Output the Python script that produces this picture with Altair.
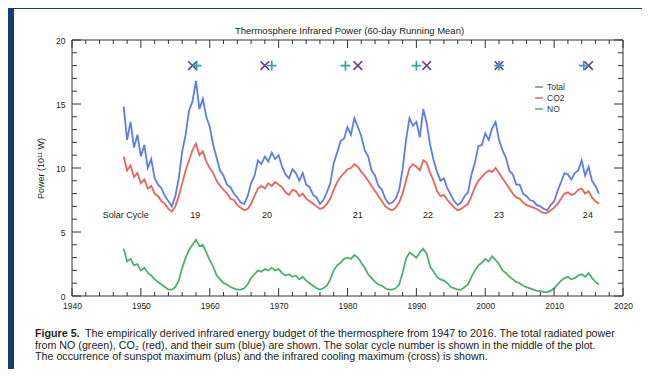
import altair as alt
import pandas as pd

# ---------------- data ----------------
START_YEAR = 1947.5
STEP = 0.5  # years between samples

# Total infrared power (10^11 W): 1947.5, then two values per year 1948..2016
total = [14.8,
         12.2, 13.6, 11.6, 12.6, 10.9, 11.8, 10.0, 10.7, 9.2, 8.7,      # 1948-1952
         8.4, 7.8, 7.4, 7.0, 7.8, 9.2, 11.3, 12.6, 14.5, 15.2,          # 1953-1957
         16.8, 14.6, 15.4, 14.0, 13.2, 11.8, 10.8, 9.8, 9.4, 8.7,       # 1958-1962
         8.5, 8.0, 7.7, 7.3, 7.2, 7.8, 8.8, 9.4, 10.6, 10.3,            # 1963-1967
         10.9, 10.5, 11.2, 10.7, 11.0, 10.1, 9.5, 9.2, 9.9, 9.6,        # 1968-1972
         9.0, 9.6, 8.7, 8.5, 7.9, 7.7, 7.2, 7.5, 8.1, 8.8,              # 1973-1977
         10.4, 11.2, 12.1, 12.3, 13.2, 12.6, 13.9, 13.2, 12.5, 11.4,    # 1978-1982
         10.9, 9.8, 9.4, 8.6, 8.3, 7.6, 7.2, 7.3, 7.6, 8.3,             # 1983-1987
         9.9, 12.2, 13.9, 13.3, 13.6, 12.4, 14.6, 13.5, 11.8, 10.6,     # 1988-1992
         9.7, 9.0, 9.2, 8.4, 7.9, 7.4, 7.1, 7.3, 7.8, 8.1,              # 1993-1997
         9.5, 10.4, 11.7, 11.8, 12.7, 12.2, 13.1, 13.6, 12.2, 11.4,     # 1998-2002
         10.8, 9.8, 9.5, 8.7, 8.7, 8.0, 7.8, 7.5, 7.4, 7.1,             # 2003-2007
         7.0, 6.8, 6.7, 7.1, 7.4, 8.2, 8.9, 9.6, 9.5, 9.1,              # 2008-2012
         9.6, 9.8, 10.6, 9.4, 10.1, 9.0, 8.6, 8.0]                      # 2013-2016

co2 = [10.9,
       9.8, 10.2, 9.3, 9.6, 8.8, 9.1, 8.4, 8.6, 8.0, 7.8,               # 1948-1952
       7.4, 7.2, 6.8, 6.6, 7.0, 7.8, 8.8, 9.8, 10.6, 11.4,              # 1953-1957
       11.9, 11.0, 11.3, 10.5, 10.0, 9.6, 9.0, 8.6, 8.3, 8.0,           # 1958-1962
       7.6, 7.5, 7.1, 6.9, 6.7, 6.8, 7.2, 7.8, 8.4, 8.6,                # 1963-1967
       8.4, 8.8, 8.6, 8.9, 8.7, 8.5, 8.1, 7.9, 8.3, 8.2,                # 1968-1972
       7.8, 8.0, 7.6, 7.4, 7.2, 7.0, 6.8, 6.9, 7.2, 7.6,                # 1973-1977
       8.3, 8.9, 9.3, 9.6, 9.9, 10.0, 10.3, 10.1, 9.7, 9.4,             # 1978-1982
       9.0, 8.6, 8.2, 7.8, 7.4, 7.0, 6.8, 6.7, 6.9, 7.3,                # 1983-1987
       8.0, 9.0, 10.0, 10.3, 10.1, 9.8, 10.6, 10.4, 9.6, 9.0,           # 1988-1992
       8.2, 7.8, 7.9, 7.5, 7.2, 6.9, 6.7, 6.8, 7.0, 7.2,                # 1993-1997
       7.8, 8.5, 9.0, 9.3, 9.6, 9.8, 9.7, 10.0, 9.6, 9.2,               # 1998-2002
       8.8, 8.4, 8.0, 7.7, 7.6, 7.3, 7.1, 7.0, 6.9, 6.8,                # 2003-2007
       6.6, 6.5, 6.5, 6.7, 6.9, 7.2, 7.6, 8.0, 8.1, 7.9,                # 2008-2012
       8.0, 8.3, 8.4, 8.0, 8.2, 7.7, 7.4, 7.2]                          # 2013-2016

no = [3.7,
      2.7, 2.9, 2.4, 2.5, 2.0, 2.2, 1.8, 1.6, 1.3, 1.1,                 # 1948-1952
      0.9, 0.7, 0.5, 0.5, 0.7, 1.2, 2.2, 3.0, 3.6, 4.0,                 # 1953-1957
      4.4, 3.9, 4.0, 3.4, 2.8, 2.3, 1.6, 1.3, 1.0, 0.9,                 # 1958-1962
      0.7, 0.6, 0.5, 0.5, 0.6, 0.9, 1.4, 1.7, 2.0, 1.9,                 # 1963-1967
      2.1, 2.0, 2.2, 2.0, 2.1, 1.8, 1.6, 1.7, 1.5, 1.6,                 # 1968-1972
      1.3, 1.5, 1.2, 1.0, 0.8, 0.6, 0.5, 0.6, 0.8, 1.3,                 # 1973-1977
      2.0, 2.4, 2.6, 2.9, 3.0, 2.9, 3.2, 3.0, 2.6, 2.2,                 # 1978-1982
      1.7, 1.4, 1.1, 0.9, 0.8, 0.6, 0.5, 0.5, 0.6, 0.9,                 # 1983-1987
      1.8, 2.9, 3.4, 3.2, 3.0, 3.4, 3.7, 3.3, 2.3, 1.9,                 # 1988-1992
      1.5, 1.3, 1.2, 1.0, 0.7, 0.6, 0.5, 0.5, 0.7, 0.9,                 # 1993-1997
      1.5, 2.0, 2.4, 2.6, 2.9, 2.7, 3.1, 2.8, 2.5, 2.0,                 # 1998-2002
      1.8, 1.5, 1.3, 1.1, 1.0, 0.8, 0.7, 0.6, 0.5, 0.4,                 # 2003-2007
      0.4, 0.3, 0.3, 0.4, 0.6, 0.9, 1.2, 1.4, 1.5, 1.3,                 # 2008-2012
      1.4, 1.6, 1.7, 1.5, 1.8, 1.4, 1.1, 0.9]                           # 2013-2016

series_names = ["Total", "CO2", "NO"]
series_colors = ["#4d6fe3", "#e8524a", "#3aa85c"]

# solar cycle labels
cycle_labels = ["Solar Cycle", "19", "20", "21", "22", "23", "24"]
cycle_years = [1947.8, 1957.9, 1968.3, 1981.5, 1991.7, 2002.0, 2014.9]
cycle_level = 6.3

# sunspot maximum (plus) and infrared cooling maximum (cross)
sunspot_max_years = [1958.1, 1969.0, 1979.7, 1990.0, 2002.0, 2014.3]
ir_max_years = [1957.5, 1968.0, 1981.5, 1991.5, 2002.0, 2015.0]
marker_level = 18.0

# axis ticks
x_major = [1940, 1950, 1960, 1970, 1980, 1990, 2000, 2010, 2020]
x_minor = [1942, 1944, 1946, 1948, 1952, 1954, 1956, 1958, 1962, 1964, 1966, 1968,
           1972, 1974, 1976, 1978, 1982, 1984, 1986, 1988, 1992, 1994, 1996, 1998,
           2002, 2004, 2006, 2008, 2012, 2014, 2016, 2018]
y_major = [0, 5, 10, 15, 20]
y_minor = [1, 2, 3, 4, 6, 7, 8, 9, 11, 12, 13, 14, 16, 17, 18, 19]

title_text = "Thermosphere Infrared Power (60-day Running Mean)"
y_title = "Power (10\u00b9\u00b9 W)"
caption_bold = "Figure 5."
caption_1 = ("The empirically derived infrared energy budget of the thermosphere from 1947 "
             "to 2016. The total radiated power")
caption_2 = ("from NO (green), CO\u2082 (red), and their sum (blue) are shown. The solar cycle "
             "number is shown in the middle of the plot.")
caption_3 = ("The occurrence of sunspot maximum (plus) and the infrared cooling maximum "
             "(cross) is shown.")

# ---------------- build ----------------
assert len(total) == len(co2) == len(no)
years = [START_YEAR + STEP * i for i in range(len(total))]

rows = []
for name, vals in zip(series_names, [total, co2, no]):
    for yr, v in zip(years, vals):
        rows.append({"year": yr, "power": v, "series": name})
df = pd.DataFrame(rows)

W, H = 551, 256
FONT = "Liberation Sans"
INK = "#222222"
FRAME = "#333333"

xscale = alt.Scale(domain=[1940, 2020], nice=False, zero=False)
yscale = alt.Scale(domain=[0, 20], nice=False, zero=False)
XAXIS = alt.Axis(values=x_major, format="d", ticks=False, tickSize=0, domain=False,
                 grid=False, labelFontSize=8.5, labelPadding=5, labelColor=INK,
                 labelFont=FONT, labelFlush=False, title=None, zindex=2)
YAXIS = alt.Axis(values=y_major, format="d", ticks=False, tickSize=0, domain=False,
                 grid=False, labelFontSize=8.5, labelPadding=7, labelColor=INK,
                 labelFont=FONT, labelFlush=False, title=y_title, titleFont=FONT,
                 titleFontSize=9, titleFontWeight="normal", titleColor=INK,
                 titlePadding=10, zindex=2)
one = pd.DataFrame({"k": [0]})

panel = alt.Chart(one).mark_rect(color="white").encode(
    x=alt.value(-58), x2=alt.value(600), y=alt.value(-31), y2=alt.value(360)
)
frame = alt.Chart(one).mark_rect(fill=None, stroke=FRAME, strokeWidth=1).encode(
    x=alt.value(0), x2=alt.value(W), y=alt.value(0), y2=alt.value(H)
)

lines = alt.Chart(df).mark_line(strokeWidth=1.8, opacity=0.9).encode(
    x=alt.X("year:Q", scale=xscale, axis=XAXIS),
    y=alt.Y("power:Q", scale=yscale, axis=YAXIS),
    color=alt.Color("series:N",
                    scale=alt.Scale(domain=series_names, range=series_colors),
                    legend=alt.Legend(orient="none", legendX=462, legendY=42, title=None,
                                      symbolType="stroke", symbolSize=60,
                                      symbolStrokeWidth=1.5, labelFontSize=8.5,
                                      labelFont=FONT, labelColor="#333333",
                                      labelOffset=3, rowPadding=1, padding=0, zindex=2)),
)

def tick_layer(values, channel, p0, p1):
    d = pd.DataFrame({"year": values, "power": values})
    if channel == "x":
        return alt.Chart(d).mark_rule(color=FRAME, strokeWidth=1).encode(
            x=alt.X("year:Q", scale=xscale, axis=XAXIS), y=alt.value(p0), y2=alt.value(p1))
    return alt.Chart(d).mark_rule(color=FRAME, strokeWidth=1).encode(
        y=alt.Y("power:Q", scale=yscale, axis=YAXIS), x=alt.value(p0), x2=alt.value(p1))

ticks = [
    tick_layer(x_major, "x", H, H - 8), tick_layer(x_minor, "x", H, H - 4),
    tick_layer(x_major, "x", 0, 8), tick_layer(x_minor, "x", 0, 4),
    tick_layer(y_major, "y", 0, 9), tick_layer(y_minor, "y", 0, 5),
    tick_layer(y_major, "y", W, W - 9), tick_layer(y_minor, "y", W, W - 5),
]

cyc_df = pd.DataFrame({"year": cycle_years, "label": cycle_labels, "power": cycle_level})
cycles = alt.Chart(cyc_df).mark_text(font=FONT, fontSize=9, color=INK).encode(
    x=alt.X("year:Q", scale=xscale, axis=XAXIS),
    y=alt.Y("power:Q", scale=yscale, axis=YAXIS),
    text="label:N",
)

PLUS = "M-1,0L1,0M0,-1L0,1"
CROSS = "M-1,-1L1,1M-1,1L1,-1"
plus_df = pd.DataFrame({"year": sunspot_max_years, "power": marker_level})
cross_df = pd.DataFrame({"year": ir_max_years, "power": marker_level})
cross = alt.Chart(cross_df).mark_point(shape=CROSS, size=75, filled=False, strokeWidth=1.7,
                                       color="#6a3e92", opacity=1).encode(
    x=alt.X("year:Q", scale=xscale, axis=XAXIS), y=alt.Y("power:Q", scale=yscale, axis=YAXIS))
plus = alt.Chart(plus_df).mark_point(shape=PLUS, size=95, filled=False, strokeWidth=1.7,
                                     color="#33a4a8", opacity=1).encode(
    x=alt.X("year:Q", scale=xscale, axis=XAXIS), y=alt.Y("power:Q", scale=yscale, axis=YAXIS))

def text_at(txt, x, y, size, weight="normal", align="left"):
    return alt.Chart(one).mark_text(text=txt, font=FONT, fontSize=size, fontWeight=weight,
                                    color=INK, align=align, baseline="middle").encode(
        x=alt.value(x), y=alt.value(y))

CAP = 10.7
texts = [
    text_at(title_text, W / 2 + 2, -9, 9.5, align="center"),
    text_at(caption_bold, -37, 294, CAP, weight="bold"),
    text_at(caption_1, 13, 294, CAP),
    text_at(caption_2, -37, 305.5, CAP),
    text_at(caption_3, -37, 317, CAP),
]

chart = alt.layer(panel, lines, frame, *ticks, cycles, cross, plus, *texts).properties(
    width=W, height=H,
    background="#123e70",
    padding={"left": 64, "top": 32, "right": 19, "bottom": 73},
    autosize=alt.AutoSizeParams(type="none"),
).configure_view(stroke=None, fill="white")

chart.save("out.html", embed_options={"renderer": "svg", "actions": False})
